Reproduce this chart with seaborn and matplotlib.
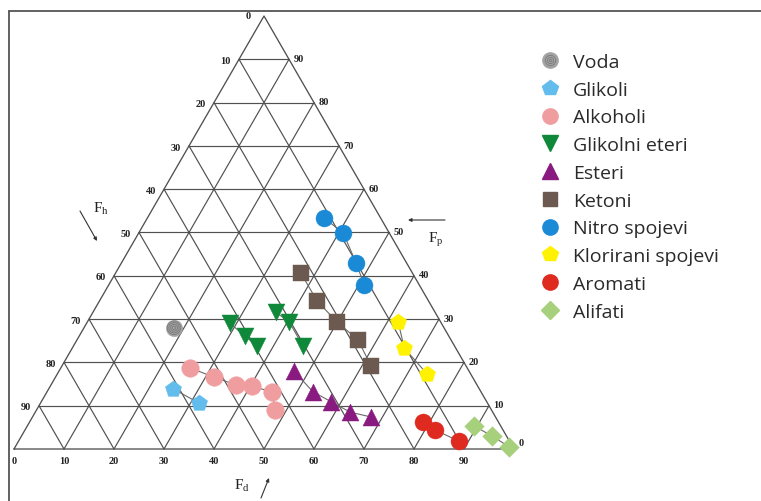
import numpy as np
import pandas as pd
import matplotlib
matplotlib.use("Agg")
import matplotlib.pyplot as plt
import seaborn as sns
from matplotlib.lines import Line2D
from matplotlib.legend_handler import HandlerTuple

# --- Teas fractional parameters (Fd, Fp in %, Fh = 100 - Fd - Fp) ---
groups = ["Voda", "Glikoli", "Alkoholi", "Glikolni eteri", "Esteri", "Ketoni",
          "Nitro spojevi", "Klorirani spojevi", "Aromati", "Alifati"]

fd_voda = [18.0]
fp_voda = [28.0]

fd_glikoli = [24.9, 31.7]
fp_glikoli = [13.9, 10.6]

fd_alkoholi = [25.9, 31.7, 37.0, 40.3, 45.0, 47.7]
fp_alkoholi = [18.7, 16.6, 14.8, 14.5, 13.2, 9.0]

fd_glik_eteri = [28.6, 33.1, 36.7, 36.6, 40.4, 45.9]
fp_glik_eteri = [29.1, 26.1, 23.8, 31.6, 29.3, 23.8]
chain_glik_eteri = [0, 0, 0, 1, 1, 1]

fd_esteri = [47.0, 53.2, 58.0, 63.0, 67.7]
fp_esteri = [18.0, 13.2, 10.9, 8.5, 7.4]

fd_ketoni = [37.1, 43.5, 50.0, 56.2, 61.8]
fp_ketoni = [40.6, 34.2, 29.3, 25.2, 19.2]

fd_nitro = [35.4, 40.9, 46.9, 51.1]
fp_nitro = [53.3, 49.9, 43.0, 37.9]

fd_klor = [62.2, 66.4, 74.0]
fp_klor = [29.3, 23.3, 17.3]

fd_aromati = [78.7, 82.0, 88.1]
fp_aromati = [6.2, 4.4, 1.8]

fd_alifati = [89.4, 94.1, 98.8]
fp_alifati = [5.3, 3.0, 0.5]

grid_ticks = list(range(0, 100, 10))

# --- styling per group ---
colors = {
    "Voda": "#a3a3a3", "Glikoli": "#63bdec", "Alkoholi": "#f09da0",
    "Glikolni eteri": "#10883a", "Esteri": "#891a7f", "Ketoni": "#6c5a50",
    "Nitro spojevi": "#1b8ad6", "Klorirani spojevi": "#fff200",
    "Aromati": "#de2a1f", "Alifati": "#a7d07c",
}
markers = {
    "Voda": "o", "Glikoli": "p", "Alkoholi": "o", "Glikolni eteri": "v",
    "Esteri": "^", "Ketoni": "s", "Nitro spojevi": "o",
    "Klorirani spojevi": "p", "Aromati": "o", "Alifati": "D",
}
sizes = {
    "Voda": 140, "Glikoli": 150, "Alkoholi": 160, "Glikolni eteri": 150,
    "Esteri": 150, "Ketoni": 120, "Nitro spojevi": 150,
    "Klorirani spojevi": 150, "Aromati": 150, "Alifati": 100,
}

series = {
    "Voda": (fd_voda, fp_voda, None),
    "Glikoli": (fd_glikoli, fp_glikoli, None),
    "Alkoholi": (fd_alkoholi, fp_alkoholi, None),
    "Glikolni eteri": (fd_glik_eteri, fp_glik_eteri, chain_glik_eteri),
    "Esteri": (fd_esteri, fp_esteri, None),
    "Ketoni": (fd_ketoni, fp_ketoni, None),
    "Nitro spojevi": (fd_nitro, fp_nitro, None),
    "Klorirani spojevi": (fd_klor, fp_klor, None),
    "Aromati": (fd_aromati, fp_aromati, None),
    "Alifati": (fd_alifati, fp_alifati, None),
}

H = np.sqrt(3) / 2


def to_xy(fd, fp):
    fd = np.asarray(fd, float)
    fp = np.asarray(fp, float)
    return fd + fp / 2.0, fp * H


rows = []
for g in groups:
    fd, fp, ch = series[g]
    x, y = to_xy(fd, fp)
    ch = ch if ch is not None else [0] * len(fd)
    for i in range(len(fd)):
        rows.append(dict(group=g, Fd=fd[i], Fp=fp[i], Fh=100 - fd[i] - fp[i],
                         x=x[i], y=y[i], chain=f"{g}-{ch[i]}"))
df = pd.DataFrame(rows)

sns.set_style("white")
plt.rcParams["font.family"] = ["Open Sans", "DejaVu Sans"]

fig = plt.figure(figsize=(7.61, 5.02), dpi=100)
ax = fig.add_axes([0, 0, 1, 1])
ax.set_xlim(-2.8, 149.4)
ax.set_ylim(-10.4, 90.0)
ax.set_aspect("equal")
ax.axis("off")

# outer frame (top and left rules)
fig.add_artist(Line2D([9.3 / 761, 1], [1 - 12.3 / 502] * 2, color="#555555", lw=1.3))
fig.add_artist(Line2D([9.3 / 761] * 2, [0, 1 - 12.3 / 502], color="#555555", lw=1.3))

# triangular grid
gc, glw = "#505050", 0.85
for v in range(10, 100, 10):
    # constant Fp (horizontal)
    x0, y0 = to_xy(0, v)
    x1, y1 = to_xy(100 - v, v)
    ax.plot([x0, x1], [y0, y1], color=gc, lw=glw, zorder=1)
    # constant Fd
    x0, y0 = to_xy(v, 0)
    x1, y1 = to_xy(v, 100 - v)
    ax.plot([x0, x1], [y0, y1], color=gc, lw=glw, zorder=1)
    # constant Fh
    x0, y0 = to_xy(100 - v, 0)
    x1, y1 = to_xy(0, 100 - v)
    ax.plot([x0, x1], [y0, y1], color=gc, lw=glw, zorder=1)
cx, cy = to_xy([0, 100, 0, 0], [0, 0, 100, 0])
ax.plot(cx, cy, color=gc, lw=glw + 0.1, zorder=1)

# tick labels
tk = dict(family="Liberation Serif", fontsize=7.5, fontweight="bold", color="#222222")
for v in grid_ticks:
    # bottom (Fd)
    bx, by = to_xy(v, 0)
    ax.annotate(str(v), (bx, by), xytext=(0, -8.6), textcoords="offset points",
                ha="center", va="center", **tk)
    # left side
    lx, ly = to_xy(0, 100 - v)
    off = -9.5 if v == 0 else -5.8
    ax.annotate(str(v), (lx, ly), xytext=(off, 0.0 if v == 0 else -0.8),
                textcoords="offset points", ha="right", va="center", **tk)
    # right side
    rx, ry = to_xy(100 - v, v)
    ax.annotate(str(v), (rx, ry), xytext=(3.3, 4.5 if v == 0 else 0.6),
                textcoords="offset points", ha="left", va="center", **tk)

# connecting lines within each series
sns.lineplot(data=df, x="x", y="y", units="chain", estimator=None, sort=False,
             color="#6a6a6a", lw=0.8, ax=ax, legend=False, zorder=2)

# points
for g in groups:
    sub = df[df.group == g]
    sns.scatterplot(data=sub, x="x", y="y", marker=markers[g], s=sizes[g],
                    color=colors[g], edgecolor=colors[g], linewidth=0.3,
                    ax=ax, legend=False, zorder=3)
# concentric rings on the water marker
vsub = df[df.group == "Voda"]
for s_ring in (95, 55, 25, 6):
    ax.scatter(vsub.x, vsub.y, s=s_ring, facecolor="none", edgecolor="#7b7b7b",
               linewidth=0.6, zorder=4)
ax.set_xlabel("")
ax.set_ylabel("")
ax.set_xlim(-2.8, 149.4)
ax.set_ylim(-10.4, 90.0)

# axis titles with arrows
tt = dict(family="Liberation Serif", fontsize=11, color="#222222", ha="center", va="center")
ap = dict(arrowstyle="-|>", lw=0.8, color="#333333", mutation_scale=5, shrinkA=0, shrinkB=0)
ax.text(17.3, 48.2, r"$\mathregular{F_h}$", **tt)
ax.annotate("", xy=(16.6, 41.6), xytext=(13.2, 47.6), arrowprops=ap)
ax.text(84.3, 42.0, r"$\mathregular{F_p}$", **tt)
ax.annotate("", xy=(78.8, 45.8), xytext=(86.2, 45.8), arrowprops=ap)
ax.text(45.6, -7.2, r"$\mathregular{F_d}$", **tt)
ax.annotate("", xy=(51.0, -5.8), xytext=(49.4, -9.8), arrowprops=ap)

# legend
handles = []
for g in groups:
    if g == "Voda":
        h = (Line2D([], [], ls="", marker="o", ms=11, color=colors[g], mec=colors[g]),
             Line2D([], [], ls="", marker="o", ms=7.5, mfc="none", mec="#7b7b7b", mew=0.6),
             Line2D([], [], ls="", marker="o", ms=4.5, mfc="none", mec="#7b7b7b", mew=0.6),
             Line2D([], [], ls="", marker="o", ms=1.8, mfc="none", mec="#7b7b7b", mew=0.6))
    else:
        ms = {"s": 9.5, "D": 9.0, "p": 11.5, "v": 11, "^": 11}.get(markers[g], 11)
        h = Line2D([], [], ls="", marker=markers[g], ms=ms, color=colors[g], mec=colors[g])
    handles.append(h)
leg = ax.legend(handles, groups, loc="upper left",
                bbox_to_anchor=(538 / 761, 1 - 54 / 502), bbox_transform=fig.transFigure,
                frameon=False, fontsize=14, labelspacing=0.5, handletextpad=0.6,
                handlelength=1.2, borderpad=0, borderaxespad=0,
                handler_map={tuple: HandlerTuple(ndivide=1)})
for t in leg.get_texts():
    t.set_color("#2a2a2a")

fig.savefig("out.png", dpi=100)
